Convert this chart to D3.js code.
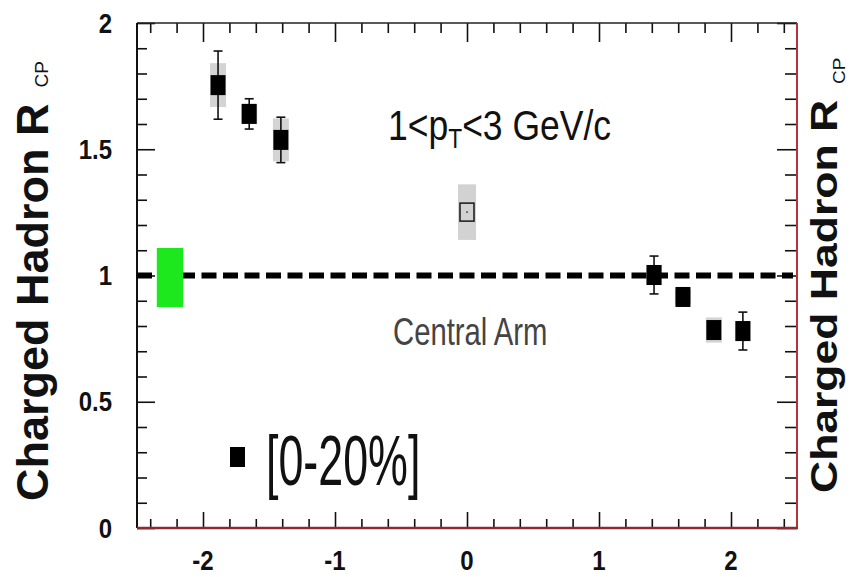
<!DOCTYPE html>
<html><head><meta charset="utf-8">
<script src="https://cdn.jsdelivr.net/npm/d3@7"></script>
<style>body{margin:0;background:#fff}svg{display:block}text{font-family:"Liberation Sans",Arial,sans-serif}</style>
</head><body><svg id="c" width="854" height="577"></svg>
<script>
// ---- data ----
const eta      = [-1.886, -1.65, -1.41, 1.417, 1.636, 1.87, 2.09];
const rcp      = [1.754, 1.64, 1.537, 1.002, 0.915, 0.784, 0.78];
const statErr  = [0.135, 0.06, 0.09, 0.075, 0.03, 0.0, 0.075];
const sysErr   = [0.087, 0.04, 0.085, 0.04, 0.03, 0.05, 0.04];
const openEta  = [0];
const openRcp  = [1.251];
const openSys  = [0.11];
const normEta  = [-2.25];
const normVal  = [0.992];
const normErr  = [0.117];
const xTickLabels = [-2, -1, 0, 1, 2];
const yTickLabels = [0, 0.5, 1, 1.5, 2];
const legendLabel = "[0-20%]";

const svg = d3.select("#c");
const L = 137, R = 797, T = 23, B = 528;
const x = d3.scaleLinear().domain([-2.5, 2.5]).range([L, R]);
const y = d3.scaleLinear().domain([0, 2]).range([B, T]);

const xMinor = d3.range(-24, 25, 2).map(d => d / 10).filter(d => Math.abs(d - Math.round(d)) > 1e-6);
const yMinor = d3.range(1, 20).map(d => d / 10).filter(d => Math.abs(d * 2 - Math.round(d * 2)) > 1e-6);

function tickAxis(gen, vals, size, tr) {
  const g = svg.append("g").attr("transform", tr)
    .call(gen.tickValues(vals).tickSizeInner(size).tickSizeOuter(0).tickFormat(""));
  g.select(".domain").remove();
  g.selectAll("line").attr("stroke", "#111").attr("stroke-width", 1.6);
  return g;
}
// bottom / top
tickAxis(d3.axisBottom(x), xMinor, -9, `translate(0,${B})`);
tickAxis(d3.axisBottom(x), xTickLabels, -16, `translate(0,${B})`);
tickAxis(d3.axisTop(x), xMinor, -10, `translate(0,${T})`);
tickAxis(d3.axisTop(x), xTickLabels, -19, `translate(0,${T})`);
// left / right
tickAxis(d3.axisLeft(y), yMinor, -10, `translate(${L},0)`);
tickAxis(d3.axisLeft(y), yTickLabels, -18, `translate(${L},0)`);
tickAxis(d3.axisRight(y), yMinor, -12, `translate(${R},0)`);
tickAxis(d3.axisRight(y), yTickLabels, -20, `translate(${R},0)`);

// frame
svg.append("line").attr("x1", L).attr("x2", R).attr("y1", T).attr("y2", T).attr("stroke", "#222").attr("stroke-width", 1.6);
svg.append("line").attr("x1", L).attr("x2", L).attr("y1", T).attr("y2", B).attr("stroke", "#111").attr("stroke-width", 2);
svg.append("line").attr("x1", R).attr("x2", R).attr("y1", T).attr("y2", B + 1).attr("stroke", "#b3343a").attr("stroke-width", 2);
svg.append("line").attr("x1", L).attr("x2", R + 1).attr("y1", B).attr("y2", B).attr("stroke", "#8e2a2e").attr("stroke-width", 2.6);

// tick labels
svg.append("g").selectAll("text").data(xTickLabels).join("text")
  .attr("transform", d => `translate(${x(d)},570) scale(1,1.12)`).attr("text-anchor", "middle")
  .attr("font-size", 24).attr("font-weight", "bold").attr("fill", "#111")
  .text(d => d);
svg.append("g").selectAll("text").data(yTickLabels).join("text")
  .attr("transform", d => `translate(112,${y(d) + 9.5}) scale(1,1.12)`).attr("text-anchor", "end")
  .attr("font-size", 24).attr("font-weight", "bold").attr("fill", "#111")
  .text(d => d);

// axis titles
function yTitle(tx, ty, fs, sx, subDy) {
  const t = svg.append("text")
    .attr("transform", `translate(${tx},${ty}) scale(${sx},1) rotate(-90)`)
    .attr("font-size", fs).attr("font-weight", "bold").attr("fill", "#111");
  t.append("tspan").text("Charged Hadron R");
  t.append("tspan").attr("font-size", 19).attr("font-weight", "normal").attr("dx", 16).attr("dy", subDy).text("CP");
}
yTitle(48, 501, 45, 1, 0);
yTitle(837, 493, 44.5, 0.82, 10);

// systematic boxes
svg.append("g").selectAll("rect").data(eta).join("rect")
  .attr("x", d => x(d) - 8).attr("width", 16)
  .attr("y", (d, i) => y(rcp[i] + sysErr[i]))
  .attr("height", (d, i) => y(rcp[i] - sysErr[i]) - y(rcp[i] + sysErr[i]))
  .attr("fill", "#d4d4d4");
svg.append("g").selectAll("rect").data(openEta).join("rect")
  .attr("x", d => x(d) - 9).attr("width", 18)
  .attr("y", (d, i) => y(openRcp[i] + openSys[i]))
  .attr("height", (d, i) => y(openRcp[i] - openSys[i]) - y(openRcp[i] + openSys[i]))
  .attr("fill", "#d2d2d2");

// dashed unity line
svg.append("line").attr("x1", L).attr("x2", R - 4).attr("y1", y(1)).attr("y2", y(1))
  .attr("stroke", "#000").attr("stroke-width", 6).attr("stroke-dasharray", "15,6.5");

// normalization box
svg.append("g").selectAll("rect").data(normEta).join("rect")
  .attr("x", d => x(d - 0.1)).attr("width", d => x(d + 0.1) - x(d - 0.1))
  .attr("y", (d, i) => y(normVal[i] + normErr[i]))
  .attr("height", (d, i) => y(normVal[i] - normErr[i]) - y(normVal[i] + normErr[i]))
  .attr("fill", "#1de81d");

// error bars
const eb = svg.append("g").attr("stroke", "#111").attr("stroke-width", 1.6);
eta.forEach((d, i) => {
  if (statErr[i] <= 0) return;
  const cx = x(d), y1 = y(rcp[i] + statErr[i]), y2 = y(rcp[i] - statErr[i]);
  eb.append("line").attr("x1", cx).attr("x2", cx).attr("y1", y1).attr("y2", y2);
  eb.append("line").attr("x1", cx - 4.5).attr("x2", cx + 4.5).attr("y1", y1).attr("y2", y1);
  eb.append("line").attr("x1", cx - 4.5).attr("x2", cx + 4.5).attr("y1", y2).attr("y2", y2);
});

// filled markers
svg.append("g").selectAll("rect").data(eta).join("rect")
  .attr("x", d => x(d) - 7.5).attr("width", 15)
  .attr("y", (d, i) => y(rcp[i]) - 10).attr("height", 20)
  .attr("fill", "#000");

// open marker
svg.append("g").selectAll("rect").data(openEta).join("rect")
  .attr("x", d => x(d) - 7).attr("width", 14)
  .attr("y", (d, i) => y(openRcp[i]) - 9).attr("height", 18)
  .attr("fill", "none").attr("stroke", "#222").attr("stroke-width", 1.6);
svg.append("g").selectAll("circle").data(openEta).join("circle")
  .attr("cx", d => x(d)).attr("cy", (d, i) => y(openRcp[i])).attr("r", 0.9).attr("fill", "#333");

// annotations
svg.append("text").attr("transform", "translate(388,140) scale(0.845,1)")
  .attr("font-size", 42).attr("fill", "#111")
  .call(t => {
    t.append("tspan").text("1<p");
    t.append("tspan").attr("font-size", 27).attr("dy", 8).text("T");
    t.append("tspan").attr("dy", -8).text("<3 GeV/c");
  });
svg.append("text").attr("transform", "translate(393,345) scale(0.77,1)")
  .attr("font-size", 38).attr("fill", "#444").text("Central Arm");

// legend
svg.append("rect").attr("x", 230).attr("y", 447).attr("width", 15).attr("height", 20).attr("fill", "#000");
svg.append("text").attr("transform", "translate(266,485) scale(0.64,1)")
  .attr("font-size", 70).attr("fill", "#111").text(legendLabel);
</script></body></html>
